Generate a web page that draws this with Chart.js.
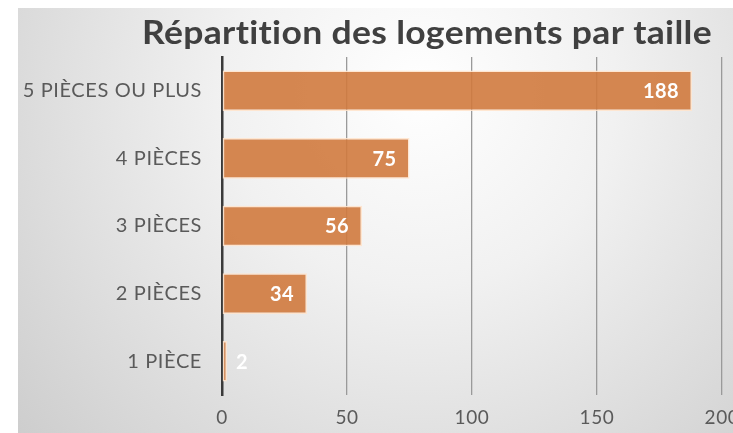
<!DOCTYPE html>
<html><head><meta charset="utf-8">
<style>html,body{margin:0;padding:0;background:#fff;overflow:hidden}
#wrap{position:relative;width:733px;height:433px}</style>
<script src="https://cdn.jsdelivr.net/npm/chart.js@4"></script>
</head><body><div id="wrap"><canvas id="c" width="733" height="433"></canvas></div>
<script>
const categories = ['5 PIÈCES OU PLUS', '4 PIÈCES', '3 PIÈCES', '2 PIÈCES', '1 PIÈCE'];
const values = [188, 75, 56, 34, 2];
const xTicks = [0, 50, 100, 150, 200];
const titleText = 'Répartition des logements par taille';

const bgPlugin = {
  id: 'bg',
  beforeDraw(chart) {
    const ctx = chart.ctx;
    ctx.save();
    ctx.fillStyle = '#ffffff';
    ctx.fillRect(0, 0, chart.width, chart.height);
    const g = ctx.createRadialGradient(420, 90, 0, 420, 90, 560);
    g.addColorStop(0, '#ffffff');
    g.addColorStop(0.35, '#f1f1f1');
    g.addColorStop(1, '#cacaca');
    ctx.fillStyle = g;
    ctx.fillRect(18, 8, chart.width - 18, chart.height - 8);
    ctx.restore();
    ctx.letterSpacing = '0.6px';
  }
};

const titlePlugin = {
  id: 'ttl',
  afterDraw(chart) {
    const ctx = chart.ctx;
    ctx.save();
    ctx.letterSpacing = '0.3px';
    ctx.font = 'bold 33px Lato';
    const w = ctx.measureText(titleText).width;
    const target = 570;
    const sx = target / w;
    ctx.translate(427, 44);
    ctx.scale(sx, 1);
    ctx.fillStyle = '#404040';
    ctx.textAlign = 'center';
    ctx.textBaseline = 'alphabetic';
    ctx.fillText(titleText, 0, 0);
    ctx.restore();
  }
};

const labelPlugin = {
  id: 'vlabels',
  afterDatasetsDraw(chart) {
    const ctx = chart.ctx;
    const meta = chart.getDatasetMeta(0);
    ctx.save();
    ctx.letterSpacing = '0.4px';
    ctx.font = 'bold 20px Lato';
    ctx.fillStyle = '#ffffff';
    ctx.textBaseline = 'middle';
    meta.data.forEach((bar, i) => {
      const txt = String(values[i]);
      const w = ctx.measureText(txt).width;
      if (bar.x - bar.base > w + 24) {
        ctx.textAlign = 'right';
        ctx.fillText(txt, bar.x - 13, bar.y + 1);
      } else {
        ctx.textAlign = 'left';
        ctx.fillText(txt, bar.x + 9, bar.y + 1);
      }
    });
    ctx.restore();
  }
};

new Chart(document.getElementById('c'), {
  type: 'bar',
  data: {
    labels: categories,
    datasets: [{
      data: values,
      backgroundColor: 'rgba(208,122,62,0.9)',
      borderColor: 'rgba(255,228,205,0.9)',
      borderWidth: 1.5,
      borderSkipped: false,
      barPercentage: 0.6,
      categoryPercentage: 1
    }]
  },
  options: {
    indexAxis: 'y',
    responsive: false,
    animation: false,
    layout: { padding: { left: 0, right: 11, top: 57, bottom: 0 } },
    plugins: {
      legend: { display: false },
      tooltip: { enabled: false },
      title: { display: false }
    },
    scales: {
      x: {
        min: 0, max: 200,
        afterBuildTicks(s) { s.ticks = xTicks.map(v => ({ value: v })); },
        afterFit(s) { s.paddingRight = 0; s.paddingLeft = 0; s.height = 38; },
        grid: {
          color: c => (c.tick && c.tick.value === 0) ? 'rgba(0,0,0,0)' : '#9a9a9a',
          lineWidth: 1.3,
          drawTicks: false
        },
        border: { display: false },
        ticks: { color: '#5a5a5a', font: { family: 'Lato', size: 19 }, padding: 11 }
      },
      y: {
        z: 1,
        afterFit(s) { s.width = 222; s.paddingTop = 0; s.paddingBottom = 0; },
        grid: { color: 'rgba(0,0,0,0)', drawTicks: false },
        border: { display: true, color: '#3a3a3a', width: 2.5 },
        ticks: { color: '#5a5a5a', font: { family: 'Lato', size: 20 }, padding: 20 }
      }
    }
  },
  plugins: [bgPlugin, titlePlugin, labelPlugin]
});
</script></body></html>
